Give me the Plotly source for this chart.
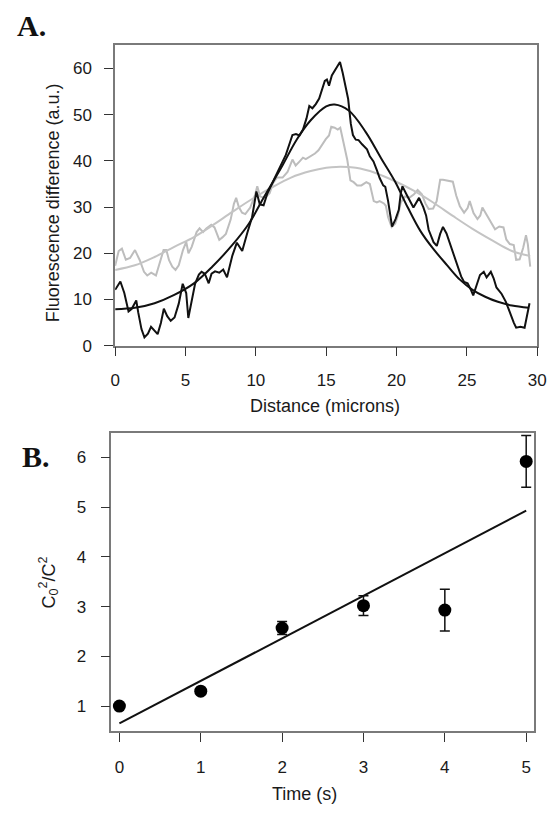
import plotly.graph_objects as go

# ---------------- Panel A data ----------------
black_x = [0.0, 0.37, 0.65, 0.95, 1.18, 1.5, 1.64, 1.87, 2.08, 2.33, 2.55, 2.8, 3.02, 3.25, 3.46,
           3.7, 3.95, 4.22, 4.52, 4.8, 5.05, 5.2, 5.42, 5.68, 5.95, 6.14, 6.37, 6.65, 6.85, 7.1,
           7.4, 7.68, 7.95, 8.33, 8.65, 9.03, 9.4, 9.73, 10.04, 10.28, 10.55, 10.8, 11.12, 11.44,
           11.79, 12.13, 12.6, 12.85, 13.1, 13.35, 13.6, 13.8, 14.02, 14.26, 14.5, 14.72, 14.9,
           15.05, 15.2, 15.4, 15.6, 15.82, 15.98, 16.17, 16.4, 16.56, 16.75, 16.9, 17.1, 17.3,
           17.55, 17.9, 18.1, 18.36, 18.6, 18.8, 19.05, 19.2, 19.4, 19.56, 19.68, 19.93, 20.16,
           20.3, 20.42, 20.7, 21.0, 21.2, 21.6, 21.9, 22.1, 22.28, 22.63, 22.86, 23.1, 23.3,
           23.55, 23.8, 24.08, 24.3, 24.59, 24.8, 25.05, 25.3, 25.45, 25.7, 25.93, 26.2, 26.4,
           26.7, 26.9, 27.1, 27.47, 27.77, 28.0, 28.33, 28.5, 28.8, 29.1, 29.27, 29.45]
black_y = [12.1, 13.9, 11.4, 7.4, 8.0, 9.8, 7.2, 3.6, 1.8, 2.6, 4.1, 3.2, 2.5, 4.9, 8.0,
           6.4, 5.4, 6.1, 9.1, 13.4, 11.4, 6.0, 9.1, 13.4, 15.4, 16.0, 15.6, 13.5, 15.6, 16.1,
           15.8, 16.5, 14.8, 19.5, 22.3, 20.5, 24.5, 27.8, 33.4, 30.6, 30.4, 32.8, 34.9, 36.9,
           39.2, 41.3, 45.6, 45.8, 45.5, 46.8, 49.2, 51.9, 51.4, 52.3, 53.5, 55.4, 57.3,
           57.6, 56.3, 58.5, 59.5, 60.5, 61.4, 59.1, 56.0, 53.4, 48.0, 45.6, 44.6, 44.5,
           43.6, 42.5, 41.0, 39.9, 38.0, 36.3, 34.7, 34.4, 31.3, 27.8, 25.8, 27.4, 29.4,
           33.0, 34.5, 32.8, 31.0, 29.9, 32.0, 30.0, 28.2, 25.1, 22.4, 21.6, 24.2, 25.7,
           24.3, 22.0, 19.6, 17.5, 15.0, 13.8, 13.5, 12.0, 10.9, 13.2, 15.3, 16.0, 14.8,
           16.0, 14.6, 12.6, 11.2, 9.5, 7.5, 5.0, 3.9, 4.1, 3.9, 6.2, 9.2]

gray_x = [0.0, 0.25, 0.48, 0.76, 1.06, 1.41, 1.75, 2.05, 2.28, 2.56, 2.9, 3.14, 3.44, 3.64, 3.83,
          4.06, 4.29, 4.52, 4.82, 5.05, 5.21, 5.44, 5.79, 6.0, 6.25, 6.48, 6.83, 7.06, 7.4, 7.64,
          7.87, 8.21, 8.44, 8.6, 8.79, 9.02, 9.25, 9.6, 9.94, 10.1, 10.3, 10.64, 10.98, 11.21,
          11.5, 11.9, 12.25, 12.6, 12.83, 13.08, 13.35, 13.55, 13.86, 14.2, 14.45, 14.75, 14.97,
          15.2, 15.36, 15.6, 15.82, 16.0, 16.2, 16.5, 16.72, 16.95, 17.2, 17.5, 17.85, 18.1,
          18.38, 18.6, 18.8, 19.1, 19.24, 19.4, 19.65, 19.9, 20.1, 20.3, 20.6, 20.9, 21.24,
          21.5, 21.8, 22.05, 22.28, 22.6, 22.85, 23.1, 23.3, 23.55, 23.85, 24.0, 24.24, 24.5,
          24.8, 25.05, 25.2, 25.47, 25.75, 25.95, 26.1, 26.35, 26.56, 26.8, 27.0, 27.3, 27.6,
          27.8, 28.05, 28.33, 28.5, 28.75, 29.0, 29.2, 29.33, 29.5]
gray_y = [17.3, 20.5, 21.0, 18.6, 19.0, 20.7, 18.5, 16.0, 15.2, 15.8, 15.2, 17.8, 20.7, 20.7, 18.5,
          17.1, 16.4, 17.4, 20.7, 22.5, 20.0, 21.4, 24.6, 25.4, 24.6, 25.4, 26.2, 25.6, 22.9, 23.5,
          24.2, 27.3, 30.7, 32.0, 30.0, 28.8, 28.5, 29.9, 32.6, 34.5, 32.3, 32.0, 33.0, 35.1,
          36.4, 36.4, 37.6, 40.3, 39.0, 39.8, 40.7, 40.4, 41.0, 41.6, 42.3, 43.8, 44.7,
          45.5, 47.4, 47.2, 46.8, 47.2, 44.6, 40.2, 35.8, 35.4, 34.7, 34.7, 35.4, 35.0,
          31.3, 31.0, 31.3, 30.8, 30.3, 27.8, 25.7, 26.4, 28.2, 31.0, 32.3, 32.0, 32.8,
          33.7, 32.8, 30.8, 29.6, 29.7, 31.3, 35.9, 35.9, 35.8, 35.6, 35.5, 32.5, 30.2,
          28.8, 29.8, 31.3, 28.7, 27.4, 28.2, 29.9, 28.6, 27.6, 26.2, 25.2, 25.8, 25.6,
          23.0, 22.0, 21.8, 18.6, 18.7, 21.2, 23.9, 22.0, 17.1]

black_fit_x = [0.0, 1.4, 2.8, 4.2, 5.6, 6.9, 8.3, 9.5, 10.6, 11.8, 12.9, 13.9, 15.0, 15.6,
               16.6, 17.8, 18.9, 19.9, 20.8, 21.7, 22.6, 23.6, 24.5, 25.4, 26.3, 27.2, 28.2, 29.4]
black_fit_y = [7.9, 8.2, 9.2, 11.0, 13.5, 17.1, 21.7, 26.4, 32.3, 38.5, 44.6, 48.8, 51.8, 52.2,
               50.9, 46.3, 40.6, 35.5, 29.9, 24.8, 21.0, 17.4, 14.3, 12.1, 10.6, 9.5, 8.7, 8.2]

gray_fit_x = [0.0, 1.4, 2.8, 4.2, 5.6, 6.9, 8.3, 9.7, 11.1, 12.5, 13.9, 15.0, 15.7, 17.1,
              18.5, 19.9, 21.25, 22.6, 24.0, 25.4, 26.8, 28.2, 29.5]
gray_fit_y = [16.4, 17.4, 19.2, 21.4, 23.5, 26.0, 28.9, 31.7, 34.2, 36.4, 37.8, 38.5, 38.7, 38.5,
              37.4, 35.6, 33.5, 31.0, 28.1, 25.3, 22.8, 20.5, 19.4]

# ---------------- Panel B data ----------------
time_s = [0, 1, 2, 3, 4, 5]
ratio = [1.0, 1.3, 2.57, 3.02, 2.93, 5.92]
ratio_err = [0.03, 0.05, 0.13, 0.2, 0.42, 0.52]
fit_t = [0, 5]
fit_ratio = [0.65, 4.93]

W, H = 556, 814


def fx(px):
    return px / W


def fy(py):
    return 1 - py / H


FONT = "Liberation Sans, Arial, Helvetica, sans-serif"
FRAME = "#7a7a7a"
TXT = "#1a1a1a"

fig = go.Figure()

fig.add_trace(go.Scatter(x=gray_x, y=gray_y, mode="lines",
                         line=dict(color="#bdbdbd", width=2), xaxis="x", yaxis="y"))
fig.add_trace(go.Scatter(x=gray_fit_x, y=gray_fit_y, mode="lines",
                         line=dict(color="#c4c4c4", width=2, shape="spline"), xaxis="x", yaxis="y"))
fig.add_trace(go.Scatter(x=black_x, y=black_y, mode="lines",
                         line=dict(color="#111111", width=2), xaxis="x", yaxis="y"))
fig.add_trace(go.Scatter(x=black_fit_x, y=black_fit_y, mode="lines",
                         line=dict(color="#111111", width=2, shape="spline"), xaxis="x", yaxis="y"))

fig.add_trace(go.Scatter(x=fit_t, y=fit_ratio, mode="lines",
                         line=dict(color="#111111", width=2), xaxis="x2", yaxis="y2"))
fig.add_trace(go.Scatter(x=time_s, y=ratio, mode="markers",
                         marker=dict(color="#000000", size=13),
                         error_y=dict(type="data", array=ratio_err, color="#111111",
                                      thickness=1.5, width=5),
                         xaxis="x2", yaxis="y2"))


def ax(domain, rng, dtick, anchor, standoff):
    return dict(domain=domain, range=rng, dtick=dtick, tick0=0, anchor=anchor,
                showline=True, mirror=True, linecolor=FRAME, linewidth=1.5,
                ticks="outside", ticklen=9, tickwidth=1.3, tickcolor="#333333",
                showgrid=False, zeroline=False, ticklabelstandoff=standoff,
                tickfont=dict(family=FONT, size=17, color=TXT))


fig.update_layout(
    width=W, height=H, margin=dict(l=0, r=0, t=0, b=0),
    paper_bgcolor="white", plot_bgcolor="white", showlegend=False,
    xaxis=ax([fx(113), fx(546)], [0, 30], 5, "y", 9),
    yaxis=ax([fy(350), fy(46)], [0, 65], 10, "x", 9),
    xaxis2=ax([fx(109), fx(543)], [-0.1, 5.1], 1, "y2", 11),
    yaxis2=ax([fy(740), fy(438)], [0.5, 6.5], 1, "x2", 11),
)

ann = [
    dict(text="<b>A.</b>", x=fx(10), y=fy(26), xanchor="left", yanchor="middle",
         font=dict(family="Liberation Serif, Times New Roman, serif", size=30, color="#111111")),
    dict(text="<b>B.</b>", x=fx(15), y=fy(462), xanchor="left", yanchor="middle",
         font=dict(family="Liberation Serif, Times New Roman, serif", size=30, color="#111111")),
    dict(text="Distance (microns)", x=fx(328), y=fy(411), xanchor="center", yanchor="middle",
         font=dict(family=FONT, size=18, color=TXT)),
    dict(text="Fluorescence difference (a.u.)", x=fx(50), y=fy(205), textangle=-90,
         xanchor="center", yanchor="middle", font=dict(family=FONT, size=18, color=TXT)),
    dict(text="Time (s)", x=fx(307), y=fy(804), xanchor="center", yanchor="middle",
         font=dict(family=FONT, size=18, color=TXT)),
    dict(text="C<sub>0</sub><sup>2</sup>/C<sup>2</sup>", x=fx(45), y=fy(590), textangle=-90,
         xanchor="center", yanchor="middle", font=dict(family=FONT, size=18, color=TXT)),
]
for a in ann:
    a.update(xref="paper", yref="paper", showarrow=False)
fig.update_layout(annotations=ann)

# remove the default page margin so the figure sits at the window's origin
fig.write_html("out.html",
               config={"displayModeBar": False},
               post_script="document.body.style.margin='0px';"
                           "document.documentElement.style.overflow='hidden';")
